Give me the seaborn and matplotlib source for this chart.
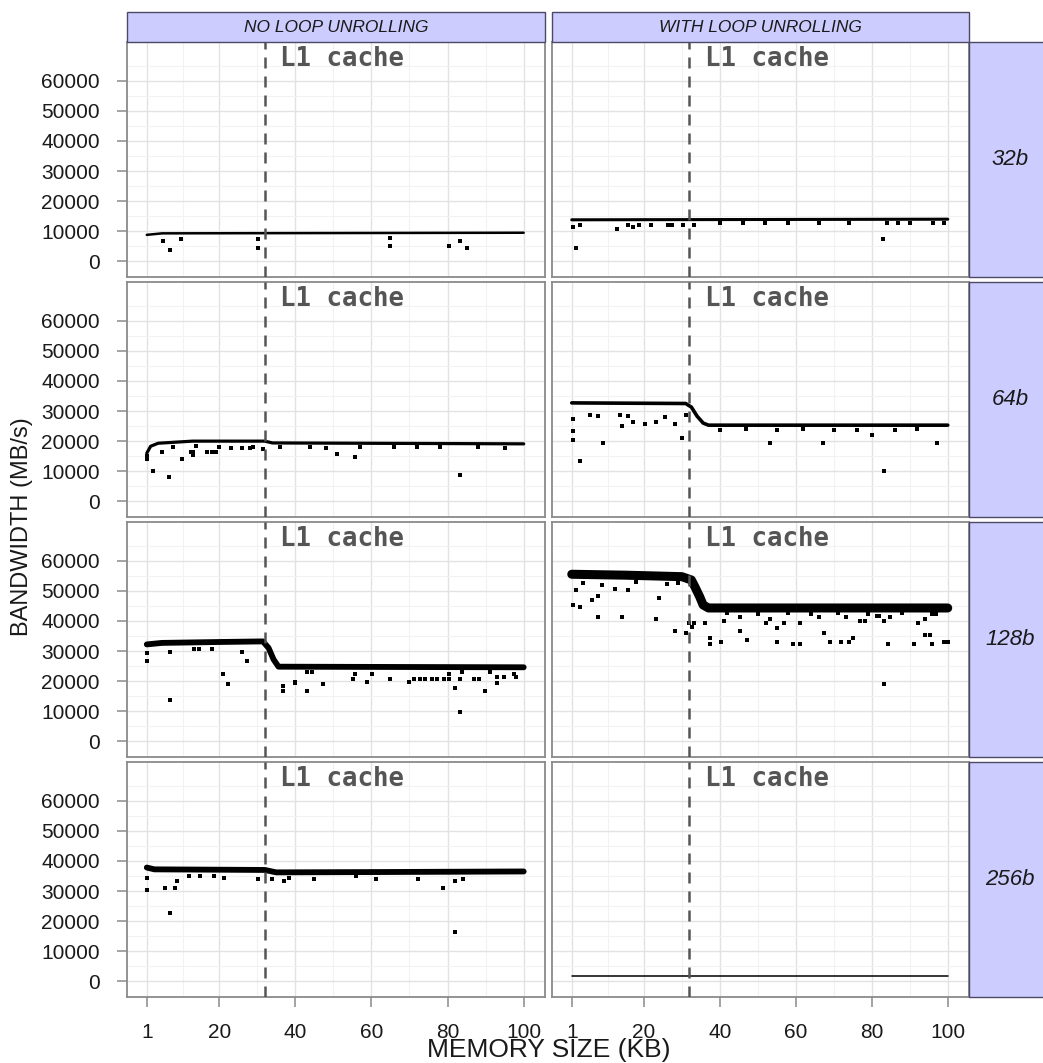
import matplotlib
matplotlib.use("Agg")
import matplotlib.pyplot as plt
import seaborn as sns
import pandas as pd
from matplotlib.patches import Rectangle
from matplotlib.ticker import FixedLocator

MODES = ["NO LOOP UNROLLING", "WITH LOOP UNROLLING"]
SIZES = ["32b", "64b", "128b", "256b"]
X_TICKS = [1, 20, 40, 60, 80, 100]
Y_TICKS = [0, 10000, 20000, 30000, 40000, 50000, 60000]
L1_KB = 32

# ---- 32b ----
no32_kb = [1, 5, 100]
no32_bw = [8800, 9300, 9500]
no32_out_kb = [5.2, 7.1, 10.0, 30.2, 30.2, 65.0, 65.0, 80.3, 83.2, 85.1]
no32_out_bw = [6800, 3700, 7500, 7500, 4500, 7700, 5200, 5200, 6800, 4500]

un32_kb = [1, 100]
un32_bw = [13800, 14000]
un32_out_kb = [1.3, 2.1, 3.2, 12.8, 15.8, 17.2, 18.8, 21.9, 26.4, 27.3, 30.3, 33.1,
               40, 46, 52, 58, 66, 74, 84, 87, 90, 96, 99, 83.0]
un32_out_bw = [11300, 4400, 12200, 10600, 12200, 11300, 12000, 12200, 12200, 12200, 12200, 12200,
               12700, 12700, 12700, 12700, 12700, 12700, 12700, 12700, 12700, 12700, 12700, 7400]

# ---- 64b ----
no64_kb = [1, 2, 4, 13, 32, 34, 100]
no64_bw = [16000, 18300, 19300, 20000, 20000, 19400, 19100]
no64_out_kb = [1, 1, 2.7, 5.1, 6.9, 10.2, 12.5, 13.1, 13.1, 16.8, 18.2, 19.2, 26.0, 28.2, 31.4,
               50.9, 55.8, 83.2, 8, 14, 20, 23, 29, 36, 44, 48, 57, 66, 72, 78, 88, 95]
no64_out_bw = [15000, 14200, 10200, 16300, 8000, 14000, 16300, 16300, 15400, 16300, 16300, 16300,
               17600, 17600, 17300, 15600, 14800, 8700, 18000, 18300, 18200, 17800, 18100, 17900,
               18000, 17800, 17900, 18000, 17900, 18100, 17900, 17800]

un64_kb = [1, 31, 32.5, 34, 35.6, 37, 100]
un64_bw = [32700, 32500, 31300, 28300, 26000, 25300, 25300]
un64_out_kb = [1.4, 1.4, 1.4, 3.2, 5.8, 8.0, 9.3, 13.7, 14.1, 15.9, 17.2, 20.3, 23.3, 25.5, 28.2,
               30.1, 31.2, 53.1, 67.1, 80.0, 83.1, 97.1, 40, 47, 55, 62, 70, 76, 86, 92]
un64_out_bw = [27200, 23300, 20400, 13400, 28600, 28300, 19500, 28800, 25000, 28300, 26400, 25700,
               26400, 28000, 25700, 21100, 28600, 19500, 19500, 21900, 10200, 19500, 23700, 23900,
               23700, 23900, 23700, 23800, 23700, 23900]

# ---- 128b ----
no128_kb = [1, 5, 20, 31.5, 33, 34.3, 35.6, 100]
no128_bw = [32200, 32700, 33000, 33200, 31000, 27200, 24800, 24600]
no128_out_kb = [1.0, 1.0, 7.1, 7.1, 13.3, 14.6, 18.1, 21.1, 22.2, 26.0, 27.3, 36.9, 36.9, 40.0,
                40.0, 43.1, 43.1, 44.4, 47.3, 55.2, 55.8, 58.8, 60.1, 65.0, 69.8, 71.1, 72.8,
                74.2, 75.9, 77.2, 79.0, 80.3, 80.3, 82.0, 83.2, 83.3, 83.8, 86.9, 88.2, 89.9,
                91.2, 93.0, 93.0, 94.7, 97.4, 98.1]
no128_out_bw = [29200, 26800, 13700, 29800, 30600, 30600, 30600, 22300, 19100, 29800, 26800, 18400,
                16700, 19800, 19300, 16700, 22900, 22900, 19100, 20600, 22300, 19800, 22300, 20600,
                19800, 20600, 20600, 20600, 20600, 20600, 20600, 20600, 22300, 17600, 9800, 20600,
                22900, 20600, 20600, 16700, 22900, 21500, 19500, 21500, 22300, 21500]

un128_kb = [1, 15, 30, 32.5, 33.4, 34.7, 35.6, 37, 100]
un128_bw = [55500, 55200, 54700, 53600, 51400, 48000, 45300, 44300, 44300]
un128_out_kb = [1.4, 2.1, 3.2, 6.3, 8.0, 8.0, 12.4, 14.1, 15.9, 23.3, 24.0, 28.2, 31.2, 31.9, 33.2,
                32.6, 36.2, 37.4, 37.4, 40.4, 41.0, 45.2, 45.2, 47.2, 52.1, 53.1, 55.0, 55.0, 56.9,
                59.3, 61.2, 61.2, 66.0, 67.3, 69.1, 72.0, 73.3, 74.0, 75.0, 77.0, 78.1, 81.4, 82.0,
                83.1, 83.1, 84.2, 84.9, 91.1, 92.3, 94.1, 94.1, 95.4, 95.9, 95.9, 98.9, 100.2,
                4, 9, 18, 26, 29, 42, 50, 58, 64, 71, 79, 88, 97]
un128_out_bw = [45300, 50300, 44500, 46900, 41400, 48300, 50600, 41400, 50300, 40700, 47500, 36700,
                36100, 39200, 39200, 37900, 39400, 34400, 32200, 32900, 40000, 41400, 36700, 33700,
                39200, 40600, 37600, 32900, 39200, 32200, 32200, 39200, 41400, 36100, 32900, 32900,
                41400, 32900, 34400, 40000, 40000, 41600, 41600, 40000, 19100, 32200, 41400, 32200,
                39200, 40500, 35200, 35200, 32200, 42300, 32900, 32900,
                52500, 52000, 52800, 52300, 52600, 42500, 42300, 42600, 42400, 42500, 42300, 42500, 42400]

# ---- 256b ----
no256_kb = [1, 3, 32, 35, 60, 100]
no256_bw = [37800, 37200, 37000, 36200, 36300, 36500]
no256_out_kb = [1, 1, 5.9, 7.2, 8.3, 9.0, 12.1, 15.1, 18.6, 21.2, 30.3, 34.0, 37.1, 38.3, 44.9,
                55.9, 61.3, 72.3, 78.9, 82.0, 82.0, 84.0]
no256_out_bw = [30200, 34400, 31100, 22600, 31100, 33300, 35000, 35000, 35000, 34400, 34100, 34100,
                33300, 34400, 34100, 35000, 34100, 34100, 31100, 33300, 16300, 34100]

un256_kb = [1, 100]
un256_bw = [1800, 1800]
un256_out_kb = []
un256_out_bw = []

PANELS = [
    ("32b", MODES[0], no32_kb, no32_bw, no32_out_kb, no32_out_bw),
    ("32b", MODES[1], un32_kb, un32_bw, un32_out_kb, un32_out_bw),
    ("64b", MODES[0], no64_kb, no64_bw, no64_out_kb, no64_out_bw),
    ("64b", MODES[1], un64_kb, un64_bw, un64_out_kb, un64_out_bw),
    ("128b", MODES[0], no128_kb, no128_bw, no128_out_kb, no128_out_bw),
    ("128b", MODES[1], un128_kb, un128_bw, un128_out_kb, un128_out_bw),
    ("256b", MODES[0], no256_kb, no256_bw, no256_out_kb, no256_out_bw),
    ("256b", MODES[1], un256_kb, un256_bw, un256_out_kb, un256_out_bw),
]

band_rows, out_rows = [], []
for block, mode, bk, bb, ok, ob in PANELS:
    band_rows += [(block, mode, k, b) for k, b in zip(bk, bb)]
    out_rows += [(block, mode, k, b) for k, b in zip(ok, ob)]
band = pd.DataFrame(band_rows, columns=["block", "mode", "kb", "bw"])
outl = pd.DataFrame(out_rows, columns=["block", "mode", "kb", "bw"])

# thickness of the dense point band in each panel
BAND_LW = {"32b": [1.8, 2.2], "64b": [2.3, 2.6], "128b": [4.2, 6.5], "256b": [4.2, 1.1]}

sns.set_theme(style="white")
plt.rcParams["font.family"] = ["Liberation Sans", "DejaVu Sans"]

W, H = 1043, 1063
fig = plt.figure(figsize=(W / 100, H / 100), dpi=100)
fig.patch.set_facecolor("white")

col_left = [127, 552]
col_w = [418, 417]
row_top0, row_pitch, row_h = 42, 240, 235
strip_fc, strip_ec = "#CCCCFF", "#4A4A66"

for r, block in enumerate(SIZES):
    top = row_top0 + row_pitch * r
    for c, mode in enumerate(MODES):
        ax = fig.add_axes([col_left[c] / W, 1 - (top + row_h) / H, col_w[c] / W, row_h / H])
        sel_b = band[(band["block"] == block) & (band["mode"] == mode)]
        sel_o = outl[(outl["block"] == block) & (outl["mode"] == mode)]
        sns.lineplot(data=sel_b, x="kb", y="bw", ax=ax, color="black", linewidth=BAND_LW[block][c],
                     estimator=None, sort=False, legend=False, zorder=3)
        if len(sel_o):
            sns.scatterplot(data=sel_o, x="kb", y="bw", ax=ax, color="black", s=6, marker="s",
                            linewidth=0, legend=False, zorder=3)
        ax.axvline(L1_KB, color="#555555", lw=1.8, linestyle=(0, (4.4, 3.2)), zorder=4)
        ax.text(36, 71600, "L1 cache", family="DejaVu Sans Mono", weight="bold", fontsize=18.5,
                color="#555555", ha="left", va="top", zorder=5)
        ax.set_xlim(-4.2, 105.6)
        ax.set_ylim(-5200, 72860)
        ax.set_xlabel("")
        ax.set_ylabel("")
        ax.set_xticks(X_TICKS)
        ax.set_yticks(Y_TICKS)
        ax.xaxis.set_minor_locator(FixedLocator([10.5, 30, 50, 70, 90]))
        ax.yaxis.set_minor_locator(FixedLocator(list(range(5000, 70000, 10000))))
        ax.grid(which="major", color="#E2E2E2", lw=1.0)
        ax.grid(which="minor", color="#F2F2F2", lw=0.8)
        ax.set_axisbelow(True)
        for sp in ax.spines.values():
            sp.set_color("#8A8A8A")
            sp.set_linewidth(1.3)
        ax.tick_params(which="minor", length=0)
        ax.tick_params(axis="y", which="major", length=7.5, width=1.1, color="#8A8A8A", pad=12,
                       labelsize=15, labelcolor="#1A1A1A", left=(c == 0), labelleft=(c == 0))
        ax.tick_params(axis="x", which="major", length=7.5, width=1.1, color="#8A8A8A", pad=11,
                       labelsize=15, labelcolor="#1A1A1A", bottom=(r == 3), labelbottom=(r == 3))
        ax.set_yticklabels([str(v) for v in Y_TICKS])
        ax.set_xticklabels([str(v) for v in X_TICKS])

        if r == 0:
            fig.add_artist(Rectangle((col_left[c] / W, 1 - 42 / H), col_w[c] / W, 30 / H,
                                     transform=fig.transFigure, facecolor=strip_fc,
                                     edgecolor=strip_ec, lw=1.0))
            fig.text((col_left[c] + col_w[c] / 2) / W, 1 - 27 / H, mode, ha="center", va="center",
                     fontsize=12.5, style="italic", color="#1A1A1A")
    fig.add_artist(Rectangle((969 / W, 1 - (top + row_h) / H), 82 / W, row_h / H,
                             transform=fig.transFigure, facecolor=strip_fc,
                             edgecolor=strip_ec, lw=1.0))
    fig.text(1010 / W, 1 - (top + row_h / 2) / H, block, ha="center", va="center",
             fontsize=16, style="italic", color="#1A1A1A")

fig.text(549 / W, 1 - 1057 / H, "MEMORY SIZE (KB)", ha="center", va="baseline", fontsize=19,
         color="#1A1A1A")
fig.text(22 / W, 1 - 527 / H, "BANDWIDTH (MB/s)", ha="center", va="center", rotation=90,
         fontsize=17, color="#1A1A1A")

fig.savefig("out.png", dpi=100, facecolor="white")
